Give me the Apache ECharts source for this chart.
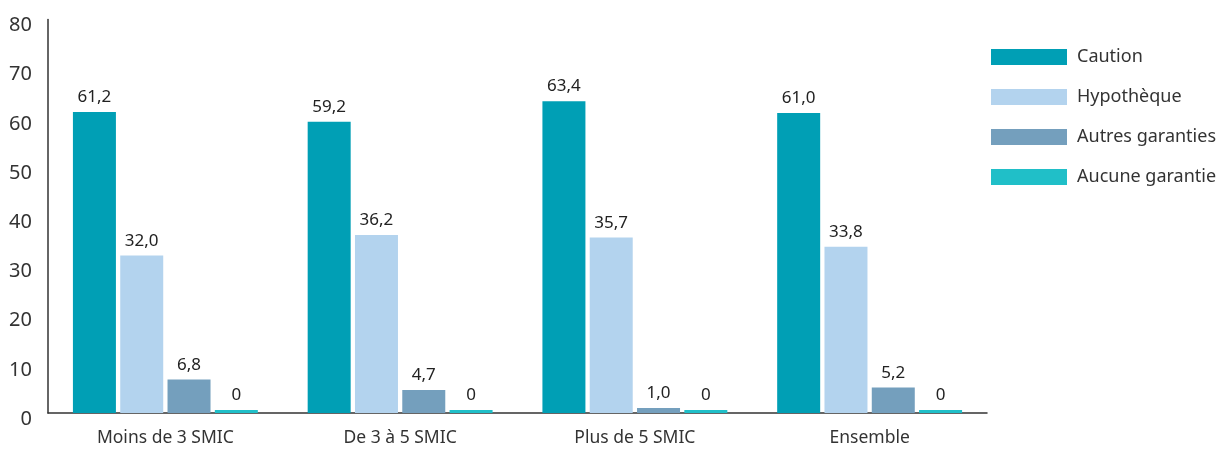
<!DOCTYPE html>
<html>
<head>
<meta charset="utf-8">
<script src="https://cdn.jsdelivr.net/npm/echarts@6/dist/echarts.min.js"></script>
<style>
  html, body { margin: 0; padding: 0; background: #fff; }
  #chart { width: 1226px; height: 450px; }
</style>
</head>
<body>
<div id="chart"></div>
<script>
const categories = ['Moins de 3 SMIC', 'De 3 à 5 SMIC', 'Plus de 5 SMIC', 'Ensemble'];
const seriesNames = ['Caution', 'Hypothèque', 'Autres garanties', 'Aucune garantie'];
const caution = [61.2, 59.2, 63.4, 61.0];
const hypotheque = [32.0, 36.2, 35.7, 33.8];
const autres = [6.8, 4.7, 1.0, 5.2];
const aucune = [0, 0, 0, 0];
const colors = ['#009fb5', '#b3d3ee', '#749fbd', '#20bfc8'];

const FONT = '"Noto Sans", sans-serif';
const fmt = p => p.value === 0 ? '0' : p.value.toFixed(1).replace('.', ',');

const values = [caution, hypotheque, autres, aucune];
const series = values.map((d, i) => ({
  name: seriesNames[i],
  type: 'bar',
  data: d,
  barWidth: 43,
  barGap: '10%',
  barMinHeight: i === 3 ? 3 : 0,
  itemStyle: { color: colors[i] },
  label: {
    show: true,
    position: 'top',
    distance: 6,
    formatter: fmt,
    color: '#222',
    fontSize: 17,
    fontFamily: FONT
  }
}));

const chart = echarts.init(document.getElementById('chart'), null, { renderer: 'canvas' });
chart.setOption({
  animation: false,
  color: colors,
  grid: { left: 48, right: 239, top: 19.5, bottom: 37, containLabel: false },
  legend: {
    orient: 'vertical',
    left: 986,
    top: 43,
    itemWidth: 76,
    itemHeight: 16,
    itemGap: 22,
    icon: 'rect',
    textStyle: { fontSize: 18, lineHeight: 16, color: '#333', fontFamily: FONT, padding: [0, 0, 0, 5] },
    data: seriesNames
  },
  xAxis: {
    type: 'category',
    data: categories,
    axisLine: { lineStyle: { color: '#333', width: 1.5 } },
    axisTick: { show: false },
    axisLabel: { fontSize: 17.5, color: '#333', fontFamily: FONT, margin: 16 }
  },
  yAxis: {
    type: 'value',
    min: 0,
    max: 80,
    interval: 10,
    splitLine: { show: false },
    axisLine: { show: true, lineStyle: { color: '#333', width: 1.5 } },
    axisTick: { show: false },
    axisLabel: {
      fontSize: 20,
      lineHeight: 12,
      verticalAlign: 'top',
      color: '#333',
      fontFamily: FONT,
      margin: 16
    }
  },
  series: series
});
</script>
</body>
</html>
